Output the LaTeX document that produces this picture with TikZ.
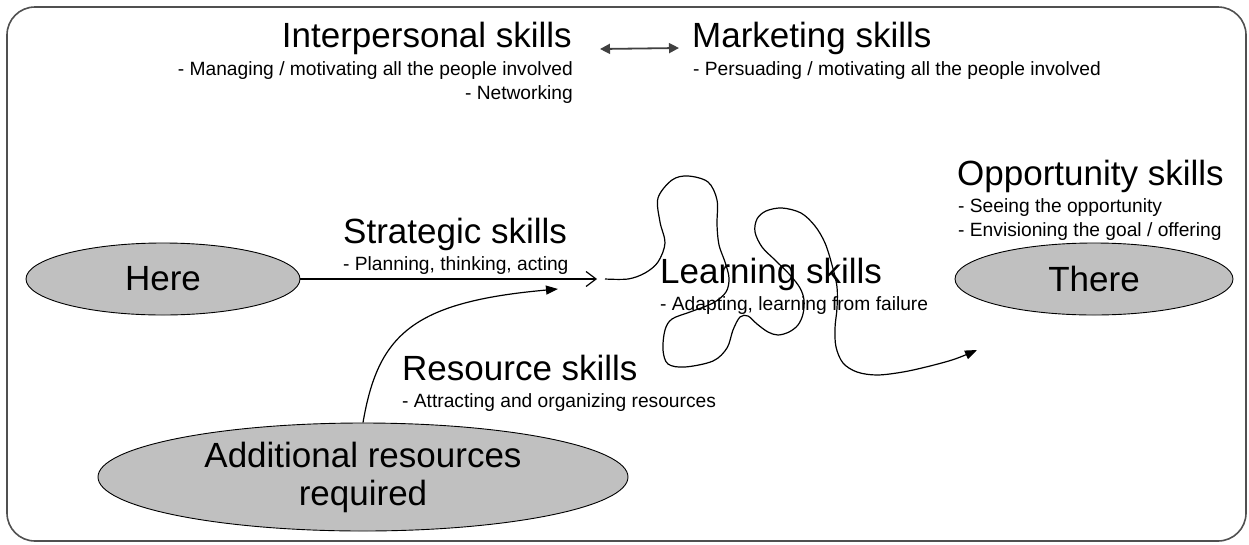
\documentclass[tikz,border=0pt]{standalone}
\usepackage{fontspec}
\setmainfont{Liberation Sans}
\usetikzlibrary{shapes.geometric,arrows.meta}
\definecolor{ellgray}{RGB}{192,192,192}
\definecolor{framegray}{RGB}{80,80,80}
\begin{document}
\begin{tikzpicture}[x=1pt,y=-1pt,
  title/.style={font=\fontsize{35}{38}\selectfont, inner sep=0pt},
  sub/.style={font=\fontsize{19.2}{24}\selectfont, inner sep=0pt},
  ell/.style={ellipse, draw=black, line width=0.9pt, fill=ellgray, inner sep=0pt,
              font=\fontsize{35}{38}\selectfont, align=center},
  conn/.style={line width=1.2pt, draw=black}
]
\useasboundingbox (0,0) rectangle (1249,544);
\draw[framegray, line width=1.6pt, rounded corners=28pt] (7,7) rectangle (1246,541);

% ellipses
\node[ell, minimum width=274pt, minimum height=72pt] (here) at (163,279) {Here};
\node[ell, minimum width=278pt, minimum height=72pt] (there) at (1094,279) {There};
\node[ell, minimum width=530pt, minimum height=108pt] (add) at (363,477) {Additional resources\\required};

% coordinates
\coordinate (sa) at (597,279);
\coordinate (da1) at (600,49);
\coordinate (da2) at (679,48);
\coordinate (ra) at (558,289);

% connectors
\draw[conn, -{Straight Barb[length=10pt,width=15pt]}] (here.east) -- (sa);
\draw[conn, -{Triangle[length=12pt,width=9pt]}] (add.north) .. controls (378,335) and (412,302) .. (ra);
\draw[line width=1.8pt, draw=black!75, {Triangle[length=10pt,width=10pt]}-{Triangle[length=10pt,width=10pt]}] (da1) -- (da2);

\draw[conn, -{Triangle[length=12pt,width=9pt]}] plot[smooth, tension=0.55] coordinates {
 (605,279) (628,279) (645,273) (658,262) (665,243) (660,222) (658,198) (672,180)
 (688,176) (708,182) (717,200) (717,225) (719,245) (725,262) (729,278) (726,292)
 (713,303) (690,312) (672,319) (665,330) (663,350) (668,364) (685,367) (713,361)
 (727,348) (733,330) (740,317) (748,316) (757,324) (768,332) (778,335) (789,332)
 (798,325) (803,314) (804,300) (800,288) (790,275) (775,260) (762,247) (755,232)
 (757,219) (766,211) (782,208) (801,213) (815,226) (825,243) (832,265) (837,287)
 (837,308) (835,328) (836,347) (843,363) (857,372) (877,375) (903,372) (930,366)
 (955,359) (977,350)};

% texts
\node[title, anchor=base east] (inter) at (572,47) {Interpersonal skills};
\node[sub, anchor=base east] (inter1) at (573,75) {- Managing / motivating all the people involved};
\node[sub, anchor=base east] (inter2) at (573,99) {- Networking};
\node[title, anchor=base west] (mkt) at (692,47) {Marketing skills};
\node[sub, anchor=base west] (mkt1) at (693,75) {- Persuading / motivating all the people involved};
\node[title, anchor=base west] (opp) at (957,185) {Opportunity skills};
\node[sub, anchor=base west] (opp1) at (958,212) {- Seeing the opportunity};
\node[sub, anchor=base west] (opp2) at (958,236) {- Envisioning the goal / offering};
\node[title, anchor=base west] (strat) at (343,243) {Strategic skills};
\node[sub, anchor=base west] (strat1) at (343,270) {- Planning, thinking, acting};
\node[title, anchor=base west] (learn) at (660,283) {Learning skills};
\node[sub, anchor=base west] (learn1) at (660,310) {- Adapting, learning from failure};
\node[title, anchor=base west] (res) at (402,380) {Resource skills};
\node[sub, anchor=base west] (res1) at (402,407) {- Attracting and organizing resources};
\end{tikzpicture}
\end{document}
